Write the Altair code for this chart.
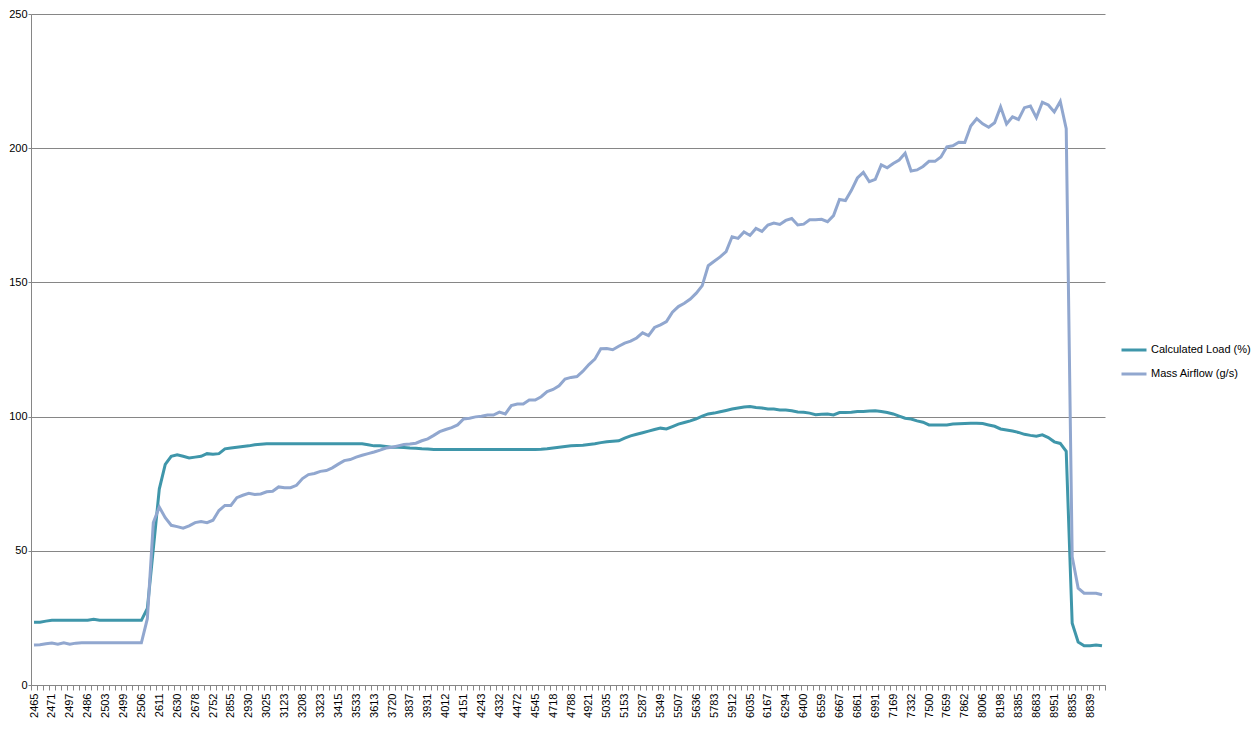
import altair as alt
import pandas as pd

TICK_LABELS = ["2465", "2471", "2497", "2486", "2503", "2499", "2506", "2611", "2630", "2678",
               "2752", "2855", "2930", "3025", "3123", "3208", "3323", "3415", "3533", "3613",
               "3720", "3837", "3931", "4012", "4151", "4243", "4332", "4472", "4545", "4718",
               "4788", "4921", "5035", "5153", "5287", "5349", "5507", "5636", "5783", "5912",
               "6035", "6167", "6294", "6400", "6559", "6667", "6861", "6991", "7169", "7332",
               "7500", "7659", "7862", "8006", "8198", "8385", "8683", "8951", "8835", "8839"]

SERIES = ["Calculated Load (%)", "Mass Airflow (g/s)"]

calculated_load = [
    23.4, 23.4, 23.8, 24.1, 24.1, 24.1, 24.1, 24.1, 24.1, 24.1,
    24.5, 24.1, 24.1, 24.1, 24.1, 24.1, 24.1, 24.1, 24.1, 28.5,
    50.7, 73.0, 82.2, 85.2, 85.8, 85.2, 84.6, 84.9, 85.2, 86.2,
    86.0, 86.2, 88.0, 88.3, 88.6, 88.9, 89.1, 89.5, 89.7, 89.9,
    89.9, 89.9, 89.9, 89.9, 89.9, 89.9, 89.9, 89.9, 89.9, 89.9,
    89.9, 89.9, 89.9, 89.9, 89.9, 89.9, 89.5, 89.1, 89.1, 88.9,
    88.6, 88.6, 88.5, 88.3, 88.2, 88.0, 87.9, 87.7, 87.7, 87.7,
    87.7, 87.7, 87.7, 87.7, 87.7, 87.7, 87.7, 87.7, 87.7, 87.7,
    87.7, 87.7, 87.7, 87.7, 87.7, 87.8, 88.0, 88.3, 88.6, 88.9,
    89.1, 89.2, 89.3, 89.6, 89.9, 90.3, 90.6, 90.8, 91.0, 92.0,
    92.8, 93.4, 94.0, 94.6, 95.2, 95.7, 95.4, 96.3, 97.2, 97.8,
    98.4, 99.2, 100.2, 101.0, 101.3, 101.8, 102.3, 102.8, 103.2, 103.6,
    103.8, 103.4, 103.2, 102.8, 102.8, 102.5, 102.5, 102.2, 101.7, 101.6,
    101.3, 100.7, 100.9, 101.0, 100.6, 101.5, 101.5, 101.6, 101.9, 101.9,
    102.1, 102.2, 101.9, 101.5, 101.0, 100.2, 99.4, 99.1, 98.4, 97.9,
    96.9, 96.9, 96.9, 96.9, 97.2, 97.3, 97.4, 97.5, 97.5, 97.4,
    96.9, 96.4, 95.4, 95.0, 94.6, 94.1, 93.4, 93.0, 92.7, 93.2,
    92.2, 90.6, 90.0, 87.1, 23.0, 16.0, 14.6, 14.6, 14.9, 14.6,
]

mass_airflow = [
    14.9, 15.0, 15.4, 15.6, 15.2, 15.7, 15.2, 15.6, 15.7, 15.7,
    15.7, 15.7, 15.7, 15.7, 15.7, 15.7, 15.7, 15.7, 15.7, 24.7,
    60.5, 66.3, 62.3, 59.5, 59.0, 58.4, 59.3, 60.5, 60.9, 60.5,
    61.4, 65.0, 66.9, 66.9, 69.8, 70.7, 71.4, 71.0, 71.2, 72.0,
    72.2, 73.8, 73.5, 73.5, 74.4, 76.9, 78.4, 78.8, 79.6, 79.9,
    80.9, 82.3, 83.6, 84.0, 84.9, 85.6, 86.2, 86.8, 87.5, 88.3,
    88.6, 89.1, 89.6, 89.8, 90.1, 91.0, 91.7, 93.0, 94.4, 95.2,
    95.9, 96.9, 99.1, 99.4, 99.9, 100.1, 100.6, 100.6, 101.7, 101.0,
    104.1, 104.7, 104.7, 106.2, 106.2, 107.4, 109.3, 110.1, 111.5, 114.0,
    114.6, 114.9, 116.9, 119.4, 121.4, 125.3, 125.4, 124.9, 126.2, 127.4,
    128.1, 129.3, 131.2, 130.2, 133.2, 134.2, 135.4, 138.9, 141.0, 142.2,
    143.8, 146.0, 148.8, 156.2, 157.9, 159.5, 161.5, 167.0, 166.4, 168.8,
    167.5, 170.1, 169.0, 171.4, 172.1, 171.6, 173.1, 173.8, 171.4, 171.7,
    173.3, 173.3, 173.5, 172.6, 174.9, 180.9, 180.5, 184.3, 188.9, 191.0,
    187.5, 188.4, 193.8, 192.7, 194.3, 195.6, 198.1, 191.5, 191.9, 193.2,
    195.1, 195.1, 196.7, 200.5, 200.9, 202.2, 202.1, 208.3, 211.0, 209.1,
    207.8, 209.5, 215.4, 209.0, 211.7, 210.7, 215.1, 215.7, 211.4, 217.1,
    216.1, 213.5, 217.4, 207.3, 47.8, 36.1, 34.2, 34.2, 34.2, 33.6,
]

n = len(calculated_load)
rows = []
for i in range(n):
    rows.append({"pos": i + 0.5, "series": SERIES[0], "value": calculated_load[i]})
for i in range(n):
    rows.append({"pos": i + 0.5, "series": SERIES[1], "value": mass_airflow[i]})
df = pd.DataFrame(rows)

label_array = "[" + ",".join("'" + s + "'" for s in TICK_LABELS) + "]"
label_expr = (
    "(datum.value % 3 == 0 && datum.value < " + str(3 * len(TICK_LABELS)) + ") ? "
    + label_array + "[datum.value / 3] : ''"
)

FONT = "Liberation Sans"
GRAY = "#868686"

x_enc = alt.X(
    "pos:Q",
    scale=alt.Scale(domain=[0, n], nice=False, zero=False),
    axis=alt.Axis(
        title=None,
        values=list(range(0, n + 1)),
        labelExpr=label_expr,
        labelAngle=-90,
        labelAlign="right",
        labelBaseline="middle",
        labelOffset=3,
        labelOverlap=False,
        labelFlush=False,
        labelBound=False,
        labelPadding=3,
        labelFont=FONT,
        labelFontSize=11,
        labelColor="#000000",
        tickSize=5,
        tickColor=GRAY,
        domainColor=GRAY,
        grid=False,
    ),
)

y_enc = alt.Y(
    "value:Q",
    scale=alt.Scale(domain=[0, 250], nice=False),
    axis=alt.Axis(
        title=None,
        values=[0, 50, 100, 150, 200, 250],
        labelFont=FONT,
        labelFontSize=11,
        labelColor="#000000",
        labelPadding=1,
        tickSize=3,
        tickColor=GRAY,
        domainColor=GRAY,
        grid=True,
        gridColor=GRAY,
        gridWidth=1,
    ),
)

color_enc = alt.Color(
    "series:N",
    scale=alt.Scale(domain=SERIES, range=["#3F96AA", "#91A7CF"]),
    legend=alt.Legend(
        title=None,
        orient="none",
        legendX=1089,
        legendY=322,
        symbolType="stroke",
        symbolSize=625,
        symbolStrokeWidth=3,
        labelFont=FONT,
        labelFontSize=11,
        labelColor="#000000",
        labelOffset=3,
        rowPadding=4,
        padding=0,
    ),
)

base = alt.Chart(df).encode(x=x_enc, y=y_enc, color=color_enc)

load_line = base.transform_filter(alt.datum.series == SERIES[0]).mark_line(strokeWidth=3)
maf_line = base.transform_filter(alt.datum.series == SERIES[1]).mark_line(strokeWidth=3)

chart = (
    alt.layer(load_line, maf_line)
    .properties(
        width=1074,
        height=671,
        autosize=alt.AutoSizeParams(type="none"),
        padding={"left": 23, "top": 6, "right": 147, "bottom": 40},
        background="#ffffff",
    )
    .configure_view(stroke=None)
)

chart.save("out.html", embed_options={"renderer": "svg", "actions": False})
